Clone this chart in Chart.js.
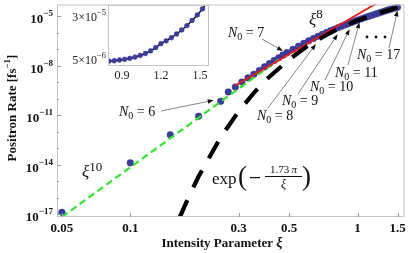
<!DOCTYPE html>
<html>
<head>
<meta charset="utf-8">
<script src="https://cdn.jsdelivr.net/npm/chart.js@4.4.1/dist/chart.umd.min.js"></script>
<style>
body { margin: 0; background: #fff; overflow: hidden; }
#wrap { position: relative; width: 409px; height: 253px; }
#wrap canvas { position: absolute; left: 0; top: 0; }
</style>
</head>
<body>
<div id="wrap">
<canvas id="mainChart" width="409" height="253"></canvas>
<canvas id="insetChart" width="409" height="90"></canvas>
</div>
<script>
// positron rate data
const xiValues = [0.05, 0.1, 0.15, 0.2, 0.25,
	0.27, 0.29, 0.31, 0.33, 0.35, 0.37, 0.39, 0.41, 0.43, 0.45, 0.47, 0.49,
	0.52, 0.55, 0.58, 0.61, 0.64, 0.67, 0.70, 0.73, 0.76, 0.79, 0.82, 0.85,
	0.88, 0.91, 0.94, 0.97, 1.00, 1.04, 1.08, 1.12, 1.16, 1.20, 1.24, 1.28,
	1.32, 1.36, 1.40, 1.45, 1.50];
const rateValues = [1.26e-17, 1.26e-14, 6.31e-13, 8.51e-12, 6.76e-11,
	2.51e-10, 5.01e-10, 1.0e-9, 1.78e-9, 2.95e-9, 5.01e-9, 8.32e-9, 1.32e-8, 2.0e-8, 2.95e-8, 4.27e-8, 6.03e-8,
	9.55e-8, 1.48e-7, 2.19e-7, 3.16e-7, 4.37e-7, 5.89e-7, 7.76e-7, 1.0e-6, 1.26e-6, 1.58e-6, 1.95e-6, 2.4e-6,
	2.88e-6, 3.47e-6, 4.07e-6, 4.79e-6, 5.62e-6, 6.76e-6, 8.13e-6, 9.55e-6, 1.12e-5, 1.32e-5, 1.51e-5, 1.74e-5,
	2.0e-5, 2.29e-5, 2.57e-5, 2.95e-5, 3.39e-5];

// xi^10 guide (green), xi^8 guide (red)
const power10Xi = [0.05, 0.45];
const power10Rate = [6.6e-18, 2.3e-8];
const power8Xi = [0.29, 1.6];
const power8Rate = [6.2e-10, 5.4e-4];

// exp(-1.73 pi / xi) curve (black dashed)
const expXi = [0.165, 0.18, 0.2, 0.25, 0.3, 0.35, 0.4, 0.5, 0.6, 0.7, 0.8, 1.0, 1.2, 1.5];
const expRate = [6.2e-18, 9.5e-17, 1.95e-15, 4.5e-13, 1.7e-11, 2.2e-10, 1.55e-9, 2.3e-8, 1.45e-7, 5.2e-7, 1.4e-6, 5.4e-6, 1.3e-5, 3.3e-5];

// inset data
const insetXi = [0.80, 0.84, 0.88, 0.92, 0.96, 1.00, 1.04, 1.08, 1.12, 1.16, 1.20,
	1.24, 1.28, 1.32, 1.36, 1.40, 1.44, 1.48, 1.52, 1.56];
const insetRate = [3.8e-6, 4.0e-6, 4.4e-6, 4.8e-6, 5.35e-6, 6.1e-6, 7.0e-6, 8.1e-6, 9.6e-6, 1.15e-5, 1.37e-5,
	1.53e-5, 1.71e-5, 1.92e-5, 2.15e-5, 2.4e-5, 2.69e-5, 3.0e-5, 3.35e-5, 3.75e-5];

// tick labels
const xiTicks = [0.05, 0.1, 0.3, 0.5, 1, 1.5];
const xiTickLabels = ['0.05', '0.1', '0.3', '0.5', '1', '1.5'];
const rateTickExp = [-17, -14, -11, -8, -5];
const insetXiTicks = [0.9, 1.2, 1.5];
const insetXiLabels = ['0.9', '1.2', '1.5'];
const insetRateTicks = [5e-6, 3e-5];
const insetRateMant = ['5', '3'];
const insetRateExp = ['6', '5'];

// N0 annotations: label and arrow tip (xi, rate)
const n0Labels = ['6', '7', '8', '9', '10', '11', '17'];
const n0TipXi = [0.233, 0.47, 0.656, 0.818, 0.923, 1.02, 1.5];
const n0TipRate = [7.8e-11, 7.6e-8, 2.0e-7, 7.9e-7, 1.6e-6, 4.2e-6, 2.2e-5];

const SERIF = '"Liberation Serif", "DejaVu Serif", serif';
const BLUE = '#3c3c9e';

function pts(xs, ys) {
	return xs.map((x, i) => ({x: x, y: ys[i]}));
}

function drawParts(ctx, parts, x, y, align) {
	let w = 0;
	parts.forEach(p => { ctx.font = p.font; w += ctx.measureText(p.t).width; });
	let cx = x;
	if (align === 'right') cx = x - w;
	if (align === 'center') cx = x - w / 2;
	ctx.textAlign = 'left';
	ctx.textBaseline = 'alphabetic';
	parts.forEach(p => {
		ctx.font = p.font;
		ctx.fillText(p.t, cx, y + (p.dy || 0));
		cx += ctx.measureText(p.t).width;
	});
}

function drawArrow(ctx, x1, y1, x2, y2) {
	ctx.save();
	ctx.strokeStyle = '#666';
	ctx.lineWidth = 0.8;
	let a = Math.atan2(y2 - y1, x2 - x1);
	let bx = x2 - 6 * Math.cos(a), by = y2 - 6 * Math.sin(a);
	ctx.beginPath();
	ctx.moveTo(x1, y1);
	ctx.lineTo(bx, by);
	ctx.stroke();
	ctx.fillStyle = '#111';
	ctx.beginPath();
	ctx.moveTo(x2, y2);
	ctx.lineTo(bx + 2.2 * Math.sin(a), by - 2.2 * Math.cos(a));
	ctx.lineTo(bx - 2.2 * Math.sin(a), by + 2.2 * Math.cos(a));
	ctx.closePath();
	ctx.fill();
	ctx.restore();
}

const mainDecor = {
	id: 'mainDecor',
	beforeDraw(chart) {
		let ctx = chart.ctx;
		ctx.save();
		ctx.fillStyle = '#fff';
		ctx.fillRect(0, 0, chart.width, chart.height);
		ctx.restore();
	},
	afterDraw(chart) {
		let ctx = chart.ctx;
		let area = chart.chartArea;
		let xs = chart.scales.x, ys = chart.scales.y;
		ctx.save();

		// frame
		ctx.strokeStyle = '#c4c4c4';
		ctx.lineWidth = 1;
		ctx.strokeRect(area.left + 0.5, area.top + 0.5, area.right - area.left - 1, area.bottom - area.top - 1);

		// y ticks
		ctx.strokeStyle = '#999';
		for (let e = -17; e <= -5; e++) {
			let py = Math.round(ys.getPixelForValue(Math.pow(10, e))) + 0.5;
			let len = rateTickExp.includes(e) ? 4 : 2;
			ctx.beginPath();
			ctx.moveTo(area.left, py);
			ctx.lineTo(area.left + len, py);
			ctx.stroke();
		}
		ctx.fillStyle = '#111';
		rateTickExp.forEach(e => {
			let py = ys.getPixelForValue(Math.pow(10, e));
			drawParts(ctx, [
				{t: '10', font: 'bold 13px ' + SERIF},
				{t: '\u2212' + Math.abs(e), font: 'bold 9px ' + SERIF, dy: -7}
			], 53, py + 7, 'right');
		});

		// x ticks
		xiTicks.forEach((v, i) => {
			let px = xs.getPixelForValue(v);
			ctx.strokeStyle = '#999';
			ctx.beginPath();
			ctx.moveTo(Math.round(px) + 0.5, area.bottom);
			ctx.lineTo(Math.round(px) + 0.5, area.bottom - 4);
			ctx.stroke();
			drawParts(ctx, [{t: xiTickLabels[i], font: 'bold 13px ' + SERIF}], px, 232, 'center');
		});

		// axis titles
		drawParts(ctx, [
			{t: 'Intensity Parameter ', font: 'bold 13px ' + SERIF},
			{t: '\u03BE', font: 'italic bold 14px ' + SERIF}
		], 222, 247, 'center');
		ctx.save();
		ctx.translate(11, 108);
		ctx.rotate(-Math.PI / 2);
		drawParts(ctx, [
			{t: 'Positron Rate [fs', font: 'bold 13px ' + SERIF},
			{t: '\u22121', font: 'bold 9px ' + SERIF, dy: -6},
			{t: ']', font: 'bold 13px ' + SERIF}
		], 0, 4.5, 'center');
		ctx.restore();

		// power law labels
		drawParts(ctx, [
			{t: '\u03BE', font: 'italic 17px ' + SERIF},
			{t: '10', font: '13px ' + SERIF, dy: -6}
		], 82, 177, 'left');
		drawParts(ctx, [
			{t: '\u03BE', font: 'italic 17px ' + SERIF},
			{t: '8', font: '13px ' + SERIF, dy: -7}
		], 309, 25, 'left');

		// exp(-1.73 pi / xi)
		drawParts(ctx, [{t: 'exp', font: '17px ' + SERIF}], 212, 184, 'left');
		ctx.font = '27px ' + SERIF;
		ctx.fillText('(', 238, 185);
		ctx.fillText(')', 302, 185);
		ctx.fillRect(250, 177, 10, 1.2);
		ctx.fillRect(265, 176, 37, 1);
		drawParts(ctx, [
			{t: '1.73\u2009', font: '11px ' + SERIF},
			{t: '\u03C0', font: 'italic 11px ' + SERIF}
		], 283.5, 173, 'center');
		drawParts(ctx, [{t: '\u03BE', font: 'italic 12px ' + SERIF}], 283.5, 188, 'center');

		// N0 labels with arrows
		let textPos = [[119, 116], [228, 37], [257, 120], [282, 105], [310, 91], [335, 77], [357, 59]];
		let lineFrom = [[161, 111], [262, 39], [268, 108], [298, 94], [325, 80], [348, 65], [389, 48]];
		n0Labels.forEach((n, i) => {
			drawParts(ctx, [
				{t: 'N', font: 'italic 14px ' + SERIF},
				{t: '0', font: '10px ' + SERIF, dy: 3},
				{t: ' = ' + n, font: '14px ' + SERIF}
			], textPos[i][0], textPos[i][1], 'left');
			let tx = xs.getPixelForValue(n0TipXi[i]);
			let ty = ys.getPixelForValue(n0TipRate[i]);
			drawArrow(ctx, lineFrom[i][0], lineFrom[i][1], tx, ty);
		});

		// ellipsis
		ctx.fillStyle = '#111';
		[367, 376, 385].forEach(dx => {
			ctx.beginPath();
			ctx.arc(dx, 37, 1.4, 0, Math.PI * 2);
			ctx.fill();
		});
		ctx.restore();
	}
};

new Chart(document.getElementById('mainChart'), {
	type: 'scatter',
	data: {
		datasets: [{
			type: 'line',
			data: pts(expXi, expRate),
			borderColor: '#000',
			borderWidth: 4.2,
			borderDash: [19, 14],
			pointRadius: 0,
			fill: false,
			order: 0
		}, {
			type: 'line',
			data: pts(power8Xi, power8Rate),
			borderColor: '#ee1a1a',
			borderWidth: 1.8,
			pointRadius: 0,
			fill: false,
			order: 1
		}, {
			type: 'line',
			data: pts(power10Xi, power10Rate),
			borderColor: '#2fe62f',
			borderWidth: 2.2,
			borderDash: [7, 4],
			pointRadius: 0,
			fill: false,
			order: 2
		}, {
			data: pts(xiValues, rateValues),
			backgroundColor: BLUE,
			borderColor: '#30307f',
			borderWidth: 0.5,
			pointRadius: 3.3,
			showLine: false,
			order: 3
		}]
	},
	options: {
		responsive: false,
		animation: false,
		devicePixelRatio: 1,
		layout: {padding: {left: 57, right: 2, top: 2, bottom: 36}},
		plugins: {legend: {display: false}, tooltip: {enabled: false}},
		scales: {
			x: {type: 'logarithmic', min: 0.0476, max: 1.61, display: false},
			y: {type: 'logarithmic', min: 6.6e-18, max: 5e-5, display: false}
		}
	},
	plugins: [mainDecor]
});

const insetDecor = {
	id: 'insetDecor',
	beforeDatasetsDraw(chart) {
		let ctx = chart.ctx;
		let area = chart.chartArea;
		ctx.save();
		ctx.fillStyle = '#fff';
		ctx.fillRect(area.left, area.top, area.right - area.left, area.bottom - area.top);
		ctx.restore();
	},
	afterDraw(chart) {
		let ctx = chart.ctx;
		let area = chart.chartArea;
		let xs = chart.scales.x, ys = chart.scales.y;
		ctx.save();
		ctx.strokeStyle = '#c4c4c4';
		ctx.lineWidth = 1;
		ctx.strokeRect(area.left + 0.5, area.top + 0.5, area.right - area.left - 1, area.bottom - area.top - 1);
		ctx.fillStyle = '#222';
		insetXiTicks.forEach((v, i) => {
			drawParts(ctx, [{t: insetXiLabels[i], font: '12px ' + SERIF}], xs.getPixelForValue(v), 79, 'center');
		});
		insetRateTicks.forEach((v, i) => {
			let py = ys.getPixelForValue(v);
			drawParts(ctx, [
				{t: insetRateMant[i] + '\u00D710', font: '12px ' + SERIF},
				{t: '\u2212' + insetRateExp[i], font: '8.5px ' + SERIF, dy: -6}
			], 106, py + 5.5, 'right');
		});
		ctx.restore();
	}
};

new Chart(document.getElementById('insetChart'), {
	type: 'scatter',
	data: {
		datasets: [{
			data: pts(insetXi, insetRate),
			backgroundColor: BLUE,
			borderColor: '#30307f',
			borderWidth: 0.5,
			pointRadius: 2.4,
			showLine: false,
			order: 0
		}, {
			type: 'line',
			data: pts(insetXi, insetRate),
			borderColor: '#000',
			borderWidth: 1.4,
			pointRadius: 0,
			fill: false,
			tension: 0.3,
			order: 1
		}]
	},
	options: {
		responsive: false,
		animation: false,
		devicePixelRatio: 1,
		layout: {padding: {left: 108, right: 200, top: 5, bottom: 24}},
		plugins: {legend: {display: false}, tooltip: {enabled: false}},
		scales: {
			x: {type: 'linear', min: 0.792, max: 1.57, display: false},
			y: {type: 'linear', min: 1.0e-6, max: 3.57e-5, display: false}
		}
	},
	plugins: [insetDecor]
});
</script>
</body>
</html>
